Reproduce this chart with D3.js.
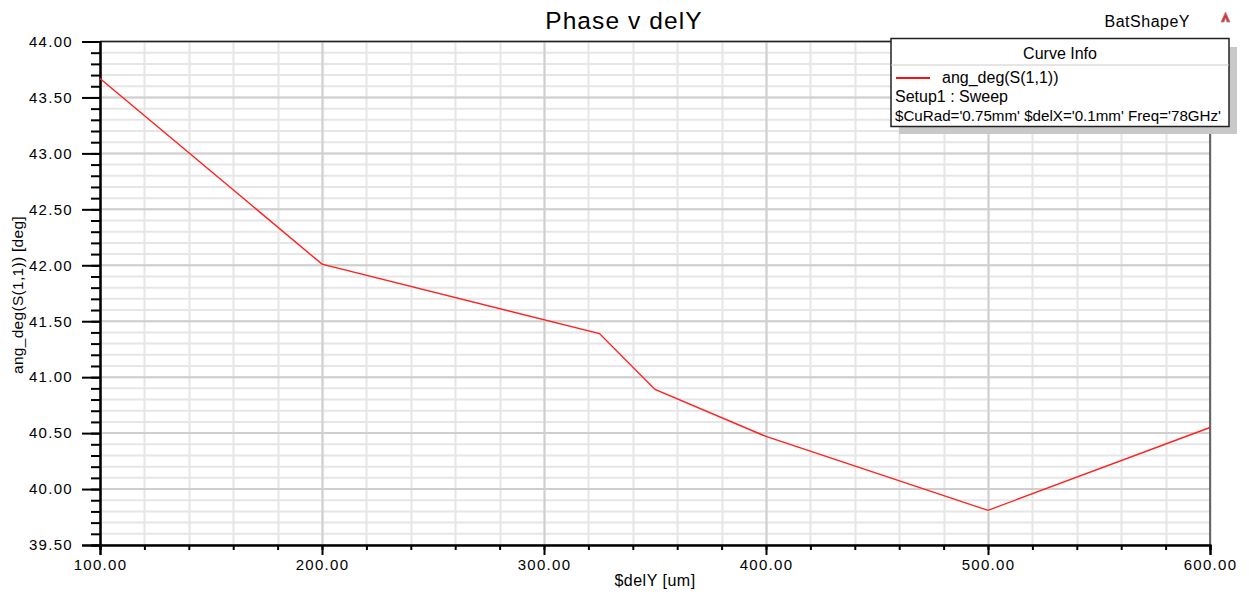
<!DOCTYPE html>
<html>
<head>
<meta charset="utf-8">
<script src="https://cdn.jsdelivr.net/npm/d3@7"></script>
<style>
  html, body { margin: 0; padding: 0; background: #fff; }
  svg { display: block; }
  text { font-family: "Liberation Sans", Arial, sans-serif; fill: #000; }
</style>
</head>
<body>
<svg id="chart" width="1249" height="596"></svg>
<script>
// ---- Data ----
const delY = [100, 200, 325, 350, 400, 500, 600];
const phaseDeg = [43.67, 42.01, 41.39, 40.89, 40.47, 39.81, 40.55];
const xTicks = [100, 200, 300, 400, 500, 600];
const yTicks = [39.5, 40.0, 40.5, 41.0, 41.5, 42.0, 42.5, 43.0, 43.5, 44.0];
const titleText = "Phase v delY";
const designName = "BatShapeY";
const xLabel = "$delY [um]";
const yLabel = "ang_deg(S(1,1)) [deg]";
const legendTitle = "Curve Info";
const legendLines = ["ang_deg(S(1,1))", "Setup1 : Sweep", "$CuRad='0.75mm' $delX='0.1mm' Freq='78GHz'"];

// ---- Layout ----
const svg = d3.select("#chart");
const L = 100, R = 1210, T = 41.5, B = 545;
const x = d3.scaleLinear().domain([100, 600]).range([L, R]);
const y = d3.scaleLinear().domain([39.5, 44.0]).range([B, T]);

// minor grid values
const xMinor = d3.range(100, 600.001, 20);
const yMinor = d3.range(0, 46).map(i => +(39.5 + i * 0.1).toFixed(2));

const g = svg.append("g");
// minor grid
g.selectAll(".vminor").data(xMinor).enter().append("line")
  .attr("x1", d => Math.round(x(d)) + 0.5).attr("x2", d => Math.round(x(d)) + 0.5)
  .attr("y1", T).attr("y2", B)
  .attr("stroke", "#e6e6e6").attr("stroke-width", 2);
g.selectAll(".hminor").data(yMinor).enter().append("line")
  .attr("x1", L).attr("x2", R)
  .attr("y1", d => y(d)).attr("y2", d => y(d))
  .attr("stroke", "#e6e6e6").attr("stroke-width", 2);
// major grid
g.selectAll(".vmajor").data(xTicks).enter().append("line")
  .attr("x1", d => Math.round(x(d)) + 0.5).attr("x2", d => Math.round(x(d)) + 0.5)
  .attr("y1", T).attr("y2", B)
  .attr("stroke", "#cfcfcf").attr("stroke-width", 2);
g.selectAll(".hmajor").data(yTicks).enter().append("line")
  .attr("x1", L).attr("x2", R)
  .attr("y1", d => y(d)).attr("y2", d => y(d))
  .attr("stroke", "#cfcfcf").attr("stroke-width", 2);

// frame
g.append("line").attr("x1", L).attr("x2", R).attr("y1", T).attr("y2", T).attr("stroke", "#222").attr("stroke-width", 1.5);
g.append("line").attr("x1", R).attr("x2", R).attr("y1", T).attr("y2", B).attr("stroke", "#444").attr("stroke-width", 1.5);

// axes
const fmt = d3.format(".2f");
const xAxis = d3.axisBottom(x).tickValues(xTicks).tickFormat(fmt).tickSize(10).tickPadding(4);
const xAxisMinor = d3.axisBottom(x).tickValues(xMinor).tickFormat("").tickSize(5);
const yAxis = d3.axisLeft(y).tickValues(yTicks).tickFormat(fmt).tickSize(18).tickPadding(9);
const yAxisMinor = d3.axisLeft(y).tickValues(yMinor).tickFormat("").tickSize(9);

function styleAxis(sel) {
  sel.select(".domain").attr("stroke", "#000").attr("stroke-width", 2);
  sel.selectAll(".tick line").attr("stroke", "#000").attr("stroke-width", 2);
  sel.selectAll(".tick text")
    .style("font-family", '"Liberation Sans", Arial, sans-serif')
    .style("font-size", "15px").style("letter-spacing", "1.3px").attr("fill", "#111");
}
svg.append("g").attr("transform", `translate(0,${B})`).call(xAxisMinor).call(styleAxis);
svg.append("g").attr("transform", `translate(0,${B})`).call(xAxis).call(styleAxis);
svg.append("g").attr("transform", `translate(${L},0)`).call(yAxisMinor).call(styleAxis);
svg.append("g").attr("transform", `translate(${L},0)`).call(yAxis).call(styleAxis);

// data line
const line = d3.line().x((d, i) => x(delY[i])).y(d => y(d));
svg.append("path").datum(phaseDeg)
  .attr("d", line).attr("fill", "none").attr("stroke", "#ff2020").attr("stroke-width", 1.4);

// titles
svg.append("text").attr("x", 624).attr("y", 29).attr("text-anchor", "middle")
  .style("font-size", "24.5px").style("letter-spacing", "1.1px").text(titleText);
svg.append("text").attr("x", 1190).attr("y", 27).attr("text-anchor", "end")
  .style("font-size", "16px").style("letter-spacing", "0.5px").attr("fill", "#222").text(designName);
// small logo
svg.append("path").attr("d", "M1221,22 L1225.5,12 L1230,22 L1227,22 L1225.5,18 L1224,22 Z")
  .attr("fill", "#d33").attr("stroke", "#a88").attr("stroke-width", 0.8);

svg.append("text").attr("x", 655).attr("y", 586).attr("text-anchor", "middle")
  .style("font-size", "16px").style("letter-spacing", "0.5px").text(xLabel);
svg.append("text").attr("transform", "translate(23,295) rotate(-90)").attr("text-anchor", "middle")
  .style("font-size", "15.5px").style("letter-spacing", "0.3px").text(yLabel);

// legend
const lg = svg.append("g");
lg.append("rect").attr("x", 899).attr("y", 47).attr("width", 338).attr("height", 87).attr("fill", "#c8c8c8");
lg.append("rect").attr("x", 891).attr("y", 38.5).attr("width", 338).attr("height", 88)
  .attr("fill", "#fff").attr("stroke", "#222").attr("stroke-width", 1.5);
lg.append("line").attr("x1", 891).attr("x2", 1229).attr("y1", 65).attr("y2", 65).attr("stroke", "#ccc").attr("stroke-width", 1);
lg.append("text").attr("x", 1060).attr("y", 59).attr("text-anchor", "middle")
  .style("font-size", "16px").attr("fill", "#222").text(legendTitle);
lg.append("line").attr("x1", 896).attr("x2", 930).attr("y1", 78).attr("y2", 78).attr("stroke", "#ff1010").attr("stroke-width", 2);
lg.append("text").attr("x", 942).attr("y", 83).style("font-size", "16px").text(legendLines[0]);
lg.append("text").attr("x", 895).attr("y", 102).style("font-size", "16px").text(legendLines[1]);
lg.append("text").attr("x", 895).attr("y", 121).style("font-size", "15px").attr("textLength", 326).attr("lengthAdjust", "spacingAndGlyphs").text(legendLines[2]);
</script>
</body>
</html>
